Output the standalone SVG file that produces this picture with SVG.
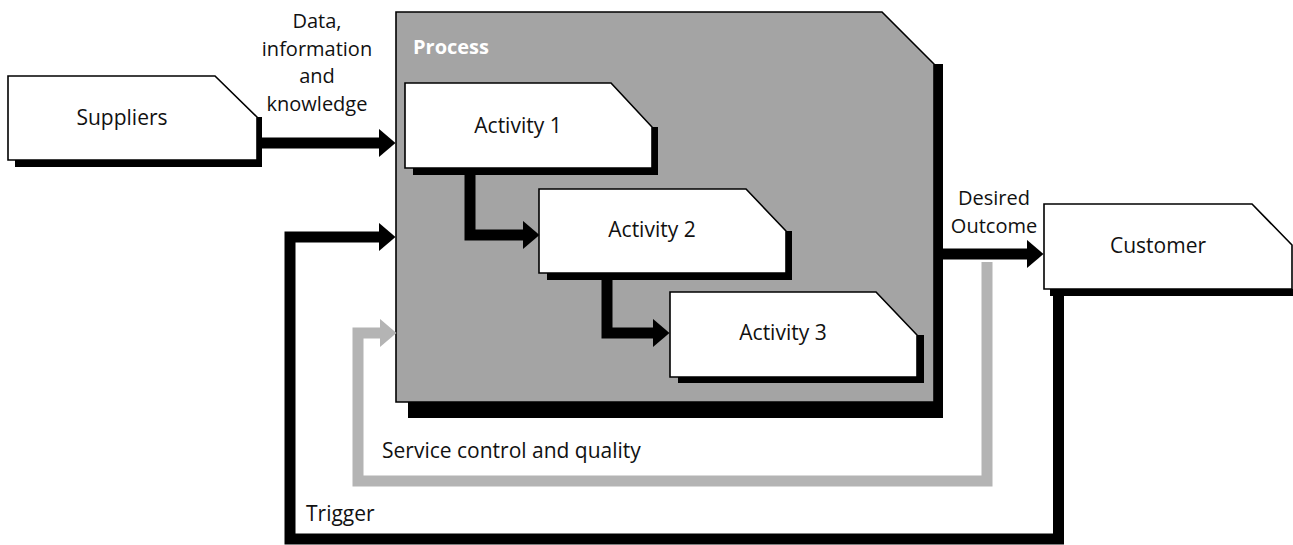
<svg xmlns="http://www.w3.org/2000/svg" width="1293" height="545" viewBox="0 0 1293 545">
  <style>
    .box { fill: #ffffff; stroke: #000000; stroke-width: 1.6; stroke-linejoin: miter; }
    .proc { fill: #a4a4a4; stroke: #000000; stroke-width: 1.6; }
    .shadow { fill: #000000; }
    .lbl { font-family: "Open Sans", "Noto Sans", "Liberation Sans", sans-serif; font-size: 21px; fill: #111111; text-anchor: middle; }
    .stk { font-family: "Open Sans", "Noto Sans", "Liberation Sans", sans-serif; font-size: 20px; fill: #111111; text-anchor: middle; }
    .lbl-l { font-family: "Open Sans", "Noto Sans", "Liberation Sans", sans-serif; font-size: 21px; fill: #111111; }
    .ptitle { font-family: "Open Sans", "Noto Sans", "Liberation Sans", sans-serif; font-size: 20px; font-weight: bold; fill: #ffffff; }
    .conn { fill: none; stroke: #000000; stroke-width: 11; stroke-linejoin: miter; }
    .conn-g { fill: none; stroke: #b4b4b4; stroke-width: 11; stroke-linejoin: miter; }
  </style>
  <defs>
    <marker id="ah" viewBox="0 0 17 29" markerWidth="17" markerHeight="29" refX="0.5" refY="14.5" orient="auto" markerUnits="userSpaceOnUse">
      <path d="M0,0 L17,14.5 L0,29 Z" fill="#000000"/>
    </marker>
    <marker id="ahg" viewBox="0 0 17 29" markerWidth="17" markerHeight="29" refX="0.5" refY="14.5" orient="auto" markerUnits="userSpaceOnUse">
      <path d="M0,0 L17,14.5 L0,29 Z" fill="#b4b4b4"/>
    </marker>
  </defs>

  <!-- Suppliers -->
  <g id="suppliers">
    <rect class="shadow" x="257" y="117" width="5" height="50"/>
    <rect class="shadow" x="15" y="160" width="247" height="7"/>
    <polygon class="box" points="8,76 215,76 257,117 257,160 8,160"/>
    <text class="lbl" x="122" y="125">Suppliers</text>
  </g>

  <!-- Process container -->
  <g id="process">
    <rect class="shadow" x="934" y="64" width="9" height="354"/>
    <rect class="shadow" x="408" y="402" width="535" height="16"/>
    <polygon class="proc" points="396,12 882,12 934,64 934,402 396,402"/>
    <text class="ptitle" x="413" y="54">Process</text>
  </g>

  <!-- Activity 1 -->
  <g id="activity1">
    <rect class="shadow" x="652" y="127" width="6" height="48"/>
    <rect class="shadow" x="413" y="168" width="245" height="7"/>
    <polygon class="box" points="405,83 611,83 652,127 652,168 405,168"/>
    <text class="lbl" x="518" y="133">Activity 1</text>
  </g>

  <!-- Activity 2 -->
  <g id="activity2">
    <rect class="shadow" x="786" y="231" width="6" height="49"/>
    <rect class="shadow" x="547" y="273" width="245" height="7"/>
    <polygon class="box" points="539,189 746,189 786,231 786,273 539,273"/>
    <text class="lbl" x="652" y="237">Activity 2</text>
  </g>

  <!-- Activity 3 -->
  <g id="activity3">
    <rect class="shadow" x="917" y="335" width="7" height="48"/>
    <rect class="shadow" x="678" y="377" width="246" height="6"/>
    <polygon class="box" points="670,292 876,292 917,335 917,377 670,377"/>
    <text class="lbl" x="783" y="340">Activity 3</text>
  </g>

  <!-- Customer -->
  <g id="customer">
    <rect class="shadow" x="1050" y="289" width="243" height="7"/>
    <polygon class="box" points="1044,204 1252,204 1292,245 1292,289 1044,289"/>
    <text class="lbl" x="1158" y="253">Customer</text>
  </g>

  <!-- Connectors -->
  <g id="connectors">
    <path class="conn" d="M262,143 H379" marker-end="url(#ah)"/>
    <path class="conn" d="M470,175 V235 H523" marker-end="url(#ah)"/>
    <path class="conn" d="M607,280 V333 H653" marker-end="url(#ah)"/>
    <path class="conn" d="M943,254 H1027" marker-end="url(#ah)"/>
    <path class="conn-g" d="M987,262 V481 H358 V333 H380" marker-end="url(#ahg)"/>
    <path class="conn" d="M1058.5,296 V539 H290 V237 H379" marker-end="url(#ah)"/>
  </g>

  <!-- Connector labels -->
  <g id="labels">
    <text class="stk" x="317" y="28">Data,</text>
    <text class="stk" x="317" y="55.5">information</text>
    <text class="stk" x="317" y="83">and</text>
    <text class="stk" x="317" y="110.5">knowledge</text>
    <text class="stk" x="994" y="205">Desired</text>
    <text class="stk" x="994" y="232.5">Outcome</text>
    <text class="lbl-l" x="382" y="458">Service control and quality</text>
    <text class="lbl-l" x="306" y="521">Trigger</text>
  </g>
</svg>
